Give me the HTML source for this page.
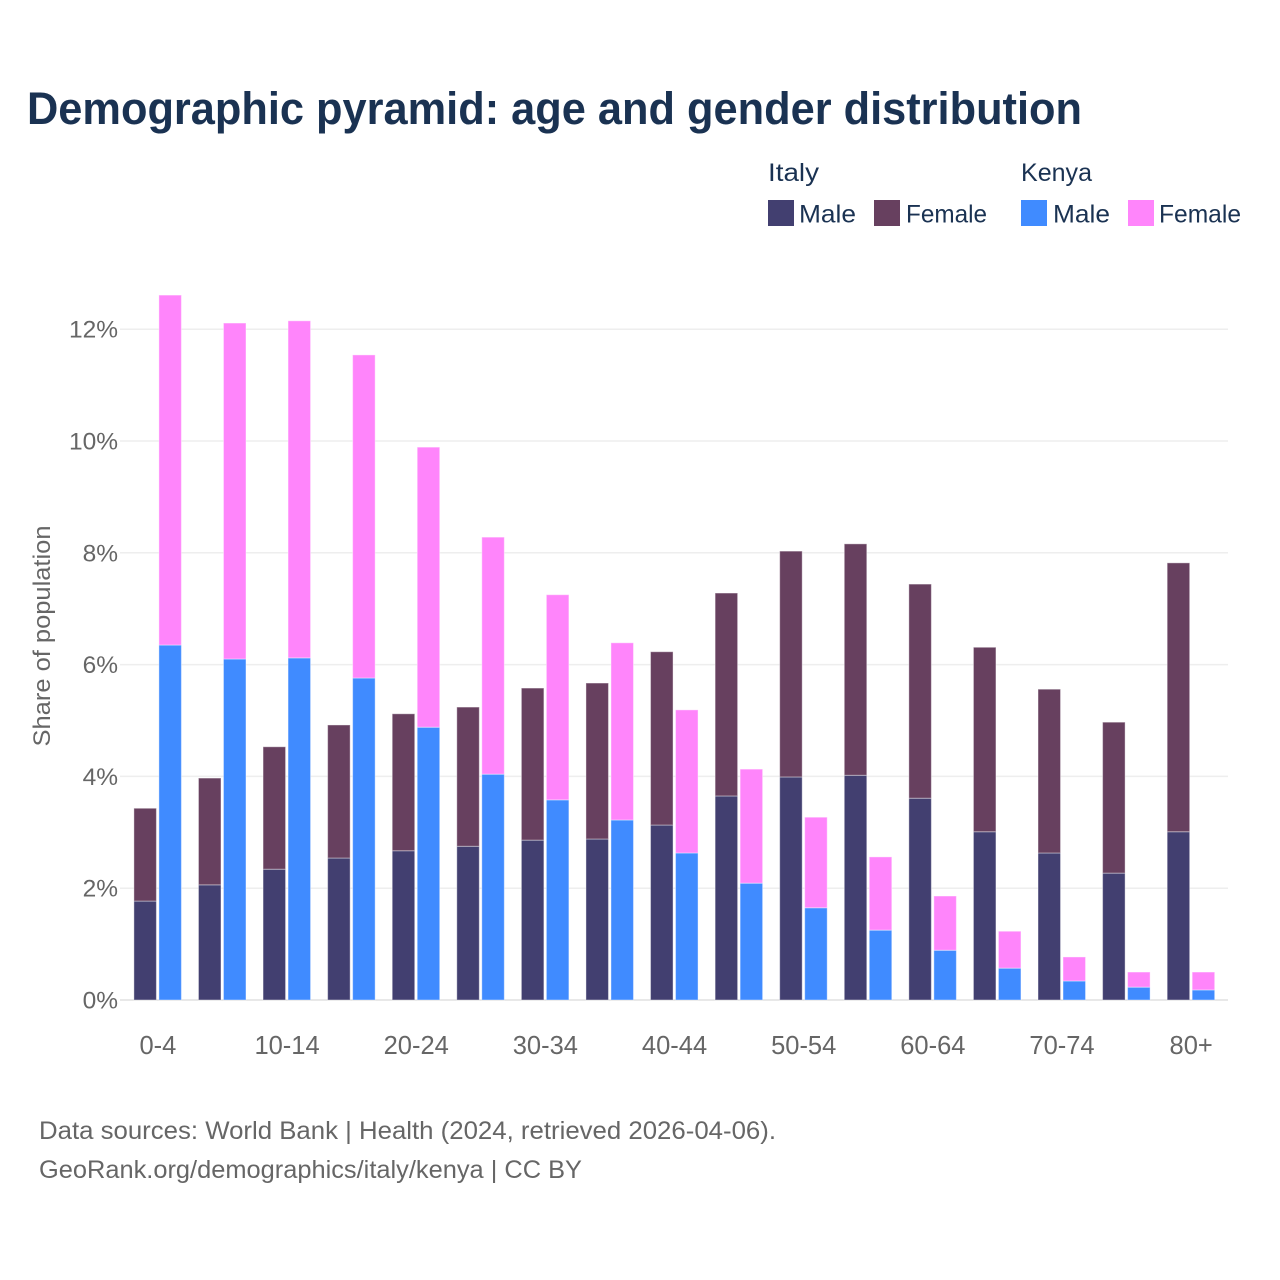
<!DOCTYPE html>
<html lang="en">
<head>
<meta charset="utf-8">
<title>Demographic pyramid</title>
<style>
html,body{margin:0;padding:0;background:#fff;}
svg{display:block;font-family:"Liberation Sans",sans-serif;}
</style>
</head>
<body>
<svg id="chart" width="1280" height="1280" viewBox="0 0 1280 1280" xmlns="http://www.w3.org/2000/svg">
<rect width="1280" height="1280" fill="#ffffff"/>
<text x="27" y="124" font-size="45" font-weight="700" fill="#1a3252" textLength="1055" lengthAdjust="spacingAndGlyphs">Demographic pyramid: age and gender distribution</text>
<g id="grid"></g>
<g id="bars"></g>
<g id="ylabels"></g>
<g id="xlabels"></g>
<text transform="translate(50,636) rotate(-90)" text-anchor="middle" font-size="24" fill="#666666" textLength="221" lengthAdjust="spacingAndGlyphs">Share of population</text>
<g>
<text x="768" y="181" font-size="25" fill="#1a3252" textLength="51" lengthAdjust="spacingAndGlyphs">Italy</text>
<text x="1021" y="181" font-size="25" fill="#1a3252" textLength="71" lengthAdjust="spacingAndGlyphs">Kenya</text>
<g><rect x="768" y="200" width="26" height="26" fill="#423f70"/><text x="799" y="222.5" font-size="25" fill="#1a3252" textLength="57" lengthAdjust="spacingAndGlyphs">Male</text></g>
<g><rect x="874" y="200" width="26" height="26" fill="#67405f"/><text x="906" y="222.5" font-size="25" fill="#1a3252" textLength="81" lengthAdjust="spacingAndGlyphs">Female</text></g>
<g><rect x="1021" y="200" width="26" height="26" fill="#408bff"/><text x="1053" y="222.5" font-size="25" fill="#1a3252" textLength="57" lengthAdjust="spacingAndGlyphs">Male</text></g>
<g><rect x="1128" y="200" width="26" height="26" fill="#ff85fb"/><text x="1159" y="222.5" font-size="25" fill="#1a3252" textLength="82" lengthAdjust="spacingAndGlyphs">Female</text></g>
</g>
<text x="39" y="1139" font-size="25" fill="#666666" textLength="737" lengthAdjust="spacingAndGlyphs">Data sources: World Bank | Health (2024, retrieved 2026-04-06).</text>
<text x="39" y="1178" font-size="25" fill="#666666" textLength="543" lengthAdjust="spacingAndGlyphs">GeoRank.org/demographics/italy/kenya | CC BY</text>
</svg>
<script>
const categories = ["0-4","5-9","10-14","15-19","20-24","25-29","30-34","35-39","40-44","45-49","50-54","55-59","60-64","65-69","70-74","75-79","80+"];
const italyMale = [1.77,2.06,2.34,2.54,2.67,2.75,2.86,2.88,3.13,3.65,3.99,4.02,3.61,3.01,2.63,2.27,3.01];
const italyFemale = [1.66,1.91,2.19,2.38,2.45,2.49,2.72,2.79,3.10,3.63,4.04,4.14,3.83,3.30,2.93,2.70,4.81];
const kenyaMale = [6.35,6.10,6.12,5.76,4.88,4.04,3.58,3.22,2.63,2.09,1.65,1.25,0.89,0.57,0.34,0.23,0.18];
const kenyaFemale = [6.26,6.01,6.03,5.78,5.01,4.24,3.67,3.17,2.56,2.04,1.62,1.31,0.97,0.66,0.43,0.27,0.32];
const yTicks = [0,2,4,6,8,10,12];

const NS = "http://www.w3.org/2000/svg";
function yScale(v){ return 1000 - v * 55.9; }
function xCenter(i){ return 157.9 + i * 64.58; }

const gridG = document.getElementById("grid");
const ylabG = document.getElementById("ylabels");
yTicks.forEach(function(t){
  const line = document.createElementNS(NS,"line");
  
  
  line.setAttribute("x1",120);
  line.setAttribute("x2",1228);
  line.setAttribute("y1",yScale(t));
  line.setAttribute("y2",yScale(t));
  line.setAttribute("stroke", t===0 ? "#e8e8e8" : "#eeeeee");
  line.setAttribute("stroke-width",t===0 ? 2 : 1.5);
  gridG.appendChild(line);
  const lab = document.createElementNS(NS,"text");
  
  
  lab.setAttribute("x",118);
  lab.setAttribute("y",yScale(t)+8.5);
  lab.setAttribute("text-anchor","end");
  lab.setAttribute("font-size",24.5);
  lab.setAttribute("fill","#666666");
  lab.textContent = t + "%";
  ylabG.appendChild(lab);
});

const barsG = document.getElementById("bars");
function addBar(x, base, val, fill){
  const r = document.createElementNS(NS,"rect");
  
  
  r.setAttribute("x",x);
  r.setAttribute("width",22.5);
  r.setAttribute("y",yScale(base+val));
  r.setAttribute("height",yScale(base)-yScale(base+val));
  r.setAttribute("fill",fill);
  r.setAttribute("stroke","#ffffff");
  r.setAttribute("stroke-opacity","0.4");
  r.setAttribute("stroke-width","1");
  barsG.appendChild(r);
}
const xlabG = document.getElementById("xlabels");
categories.forEach(function(c,i){
  const cx = xCenter(i);
  addBar(cx-24, 0, italyMale[i], "#423f70");
  addBar(cx-24, italyMale[i], italyFemale[i], "#67405f");
  addBar(cx+1, 0, kenyaMale[i], "#408bff");
  addBar(cx+1, kenyaMale[i], kenyaFemale[i], "#ff85fb");
  if(i%2===0){
    const lab = document.createElementNS(NS,"text");
    
    
    lab.setAttribute("x",cx);
    lab.setAttribute("y",1054);
    lab.setAttribute("text-anchor","middle");
    lab.setAttribute("font-size",25.5);
    lab.setAttribute("fill","#666666");
    lab.textContent = c;
    xlabG.appendChild(lab);
  }
});
</script>
</body>
</html>
